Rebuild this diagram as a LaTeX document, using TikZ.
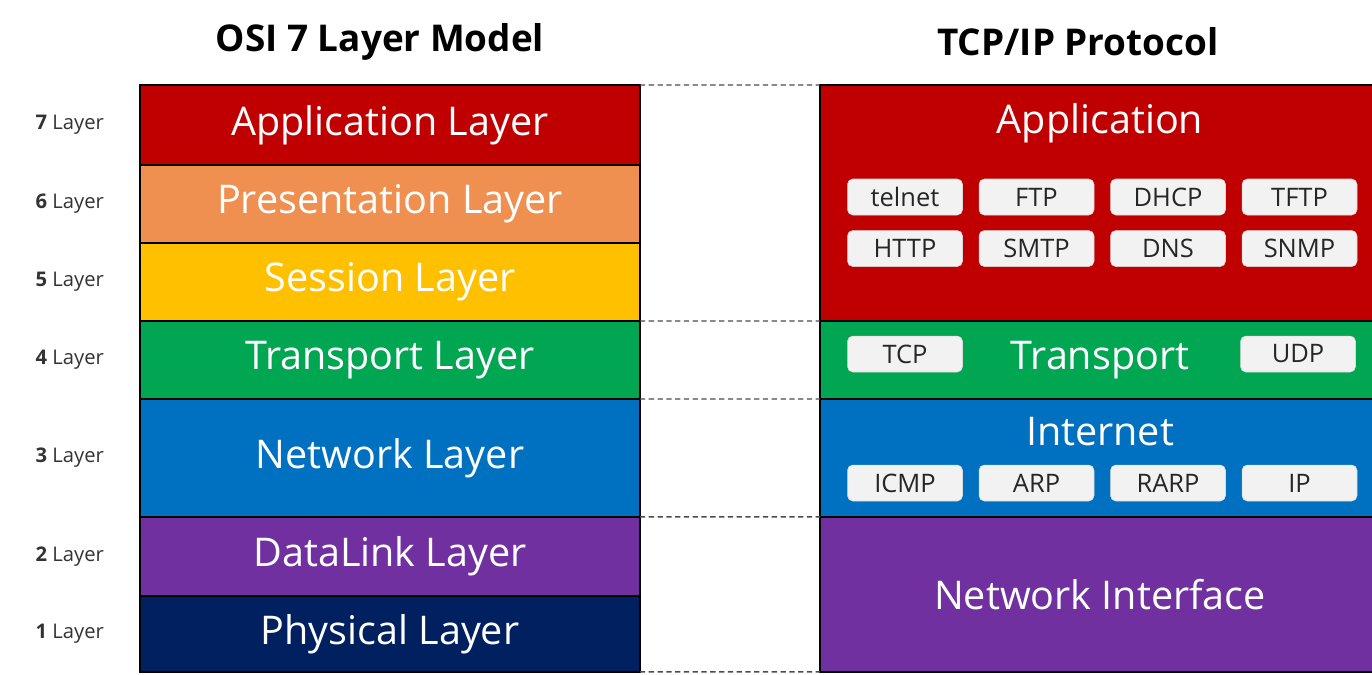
\documentclass[tikz,border=0pt]{standalone}
\usepackage{fontspec}
\setmainfont{Open Sans}
\usepackage{tikz}
\usetikzlibrary{positioning}
\tikzset{font={\small}}

\definecolor{appred}{RGB}{192,0,0}
\definecolor{preorange}{RGB}{240,144,80}
\definecolor{sesyellow}{RGB}{255,192,0}
\definecolor{trngreen}{RGB}{0,166,81}
\definecolor{netblue}{RGB}{0,112,192}
\definecolor{dlpurple}{RGB}{112,48,160}
\definecolor{phynavy}{RGB}{0,32,96}
\definecolor{protogray}{RGB}{242,242,242}

\tikzset{
	osi/.style={rectangle, draw=black, line width=1.3pt, outer sep=0pt, inner sep=0pt,
		minimum width=10cm, text=white, font=\fontsize{22.5}{26}\selectfont},
	tcpip/.style={osi, minimum width=11.2cm},
	layertext/.style={text=white, font=\fontsize{22.5}{26}\selectfont},
	proto/.style={rectangle, rounded corners=3pt, fill=protogray, draw=white!85!black, line width=0.3pt,
		minimum width=2.3cm, minimum height=0.72cm, inner sep=0pt, text=black!85,
		font=\fontsize{14.5}{17}\selectfont},
	layernum/.style={font=\fontsize{11.5}{14}\selectfont, text=black!80},
	title/.style={font=\fontsize{21}{24}\selectfont\bfseries},
	link/.style={dashed, dash pattern=on 3pt off 2pt, line width=0.8pt, draw=black!70}
}

\begin{document}
\begin{tikzpicture}[x=0.02cm, y=-0.02cm]

	\useasboundingbox (0,0) rectangle (1372,674);

	% titles
	\node (osi_title) [title] at (380,42) {OSI 7 Layer Model};
	\node (tcpip_title) [title] at (1078,42) {TCP/IP Protocol};

	% OSI stack
	\node (app) [osi, fill=appred, minimum height=1.6cm] at (390,125) {Application Layer};
	\node (pre) [osi, fill=preorange, minimum height=1.56cm, below=0pt of app] {Presentation Layer};
	\node (ses) [osi, fill=sesyellow, minimum height=1.56cm, below=0pt of pre] {Session Layer};
	\node (trn) [osi, fill=trngreen, minimum height=1.56cm, below=0pt of ses] {Transport Layer};
	\node (net) [osi, fill=netblue, minimum height=2.36cm, below=0pt of trn] {Network Layer};
	\node (dl) [osi, fill=dlpurple, minimum height=1.58cm, below=0pt of net] {DataLink Layer};
	\node (phy) [osi, fill=phynavy, minimum height=1.52cm, below=0pt of dl] {Physical Layer};

	% layer numbers
	\node (num7) [layernum, left=0.6cm of app] {\textbf{7} Layer};
	\node (num6) [layernum, left=0.6cm of pre] {\textbf{6} Layer};
	\node (num5) [layernum, left=0.6cm of ses] {\textbf{5} Layer};
	\node (num4) [layernum, left=0.6cm of trn] {\textbf{4} Layer};
	\node (num3) [layernum, left=0.6cm of net] {\textbf{3} Layer};
	\node (num2) [layernum, left=0.6cm of dl] {\textbf{2} Layer};
	\node (num1) [layernum, left=0.6cm of phy] {\textbf{1} Layer};

	% TCP/IP stack
	\node (tapp) [tcpip, fill=appred, minimum height=4.72cm] at (1100,203) {};
	\node (ttrn) [tcpip, fill=trngreen, minimum height=1.56cm, below=0pt of tapp] {};
	\node (tint) [tcpip, fill=netblue, minimum height=2.36cm, below=0pt of ttrn] {};
	\node (tnif) [tcpip, fill=dlpurple, minimum height=3.1cm, below=0pt of tint] {};

	\node (tapp_txt) [layertext, below=0.25cm of tapp.north] {Application};
	\node (ttrn_txt) [layertext] at (ttrn) {Transport};
	\node (tint_txt) [layertext, below=0.25cm of tint.north] {Internet};
	\node (tnif_txt) [layertext] at (tnif) {Network Interface};

	% protocols
	\node (telnet) [proto] at (905,197) {telnet};
	\node (ftp) [proto, right=0.32cm of telnet] {FTP};
	\node (dhcp) [proto, right=0.32cm of ftp] {DHCP};
	\node (tftp) [proto, right=0.32cm of dhcp] {TFTP};
	\node (http) [proto, below=0.3cm of telnet] {HTTP};
	\node (smtp) [proto, right=0.32cm of http] {SMTP};
	\node (dns) [proto, right=0.32cm of smtp] {DNS};
	\node (snmp) [proto, right=0.32cm of dns] {SNMP};

	\node (tcp) [proto] at (905,354) {TCP};
	\node (udp) [proto] at (1298,354) {UDP};

	\node (icmp) [proto] at (905,483) {ICMP};
	\node (arp) [proto, right=0.32cm of icmp] {ARP};
	\node (rarp) [proto, right=0.32cm of arp] {RARP};
	\node (ip) [proto, right=0.32cm of rarp] {IP};

	% dashed links
	\draw[link] (app.north east) -- (tapp.north west);
	\draw[link] (ses.south east) -- (tapp.south west);
	\draw[link] (trn.south east) -- (ttrn.south west);
	\draw[link] (net.south east) -- (tint.south west);
	\draw[link] (phy.south east) -- (tnif.south west);

\end{tikzpicture}
\end{document}
